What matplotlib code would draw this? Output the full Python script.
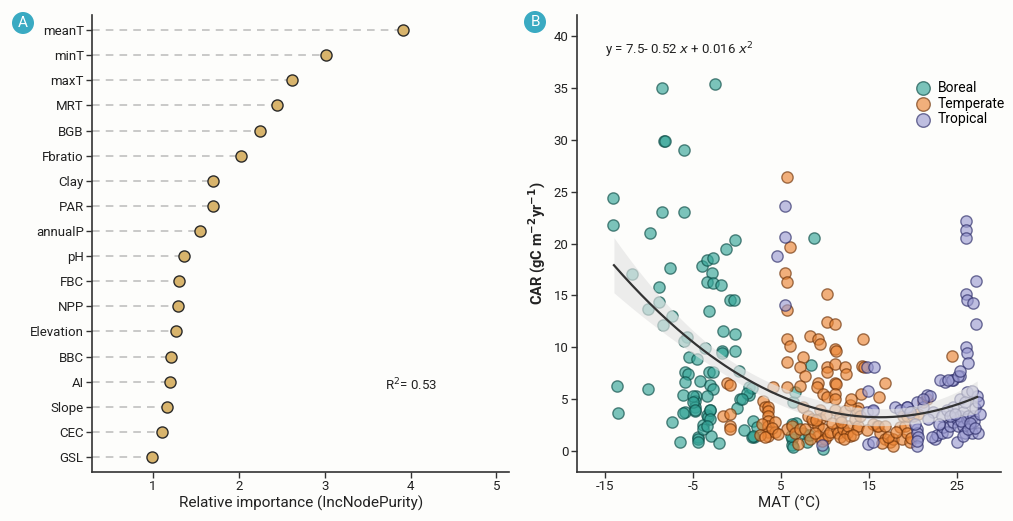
import numpy as np
import matplotlib
matplotlib.use("Agg")
import matplotlib.pyplot as plt
from matplotlib.patches import Circle

plt.rcParams['font.family'] = ['Roboto', 'DejaVu Sans']

# ---------------- Panel A data ----------------
variables = ["meanT", "minT", "maxT", "MRT", "BGB", "Fbratio", "Clay", "PAR", "annualP",
             "pH", "FBC", "NPP", "Elevation", "BBC", "AI", "Slope", "CEC", "GSL"]
importance = [3.91, 3.02, 2.62, 2.45, 2.25, 2.02, 1.70, 1.70, 1.55,
              1.36, 1.30, 1.29, 1.27, 1.21, 1.20, 1.16, 1.10, 0.99]

# ---------------- Panel B data ----------------
boreal_x = [-8.5, -2.5, -8.3, -8.2, -6.0, -14.1, -14.1, -9.9, -8.5, -6.0, -0.2, -1.25, 8.7,
            -4.0, -3.4, -2.7, -7.6, -11.9, -2.8, -3.4, -2.7, -1.8, -8.9, -0.8, -0.3, -8.9,
            -10.1, -3.2, -7.4, -8.4, -1.6, -0.2, -5.7, -6.0, -3.6, -1.7,
            -13.6, -10.1, -13.5, -7.4, -5.45, -4.55, -1.7, -0.2, -5.9, -5.6, -5.9, -4.2,
            -3.2, -2.7, -3.1, -2.7, -6.1, -4.7, -4.8, -4.8, -4.8, -3.4, -5.9, -3.4, -3.3,
            -3.1, -3.9, -4.5, -4.4, -4.5, -3.0, -3.9,
            0.2, 1.4, 1.4, 0.3, 0.0, 1.8, 1.9, 1.7, -3.1, -3.1, -3.4, -5.0, -5.0, -4.8,
            -6.1, 8.4, 6.4, 6.6, 6.3, 6.3, 6.4, 8.0, 9.8, 7.5, 6.7, 1.7, 1.1, 0.6, 2.3,
            1.8, 6.3, 6.1, 8.2, -2.0, -6.5, 0.8]
boreal_y = [35.0, 35.4, 29.9, 29.9, 29.0, 24.4, 21.8, 21.0, 23.0, 23.0, 20.3, 19.5, 20.5,
            17.8, 18.4, 18.6, 17.6, 17.1, 17.2, 16.3, 16.2, 16.0, 15.8, 14.6, 14.6, 14.4,
            13.7, 13.5, 13.0, 12.2, 11.6, 11.3, 11.0, 10.6, 9.9, 9.7,
            6.25, 6.0, 3.65, 2.8, 9.1, 8.85, 9.5, 9.7, 7.6, 7.4, 6.7, 6.8,
            7.6, 7.6, 6.4, 6.0, 5.4, 5.3, 4.8, 4.3, 3.85, 5.3, 3.75, 3.5, 3.3,
            4.0, 2.5, 1.35, 1.15, 0.9, 1.45, 2.1,
            7.7, 6.15, 5.4, 5.0, 4.2, 2.9, 1.35, 1.35, 4.0, 3.1, 2.4, 5.3, 4.7, 4.0,
            3.65, 8.3, 4.7, 5.7, 1.15, 0.65, 0.4, 0.9, 0.2, 1.8, 2.7, 6.1, 5.6, 5.0, 2.3,
            1.45, 2.6, 1.45, 1.6, 0.8, 0.9, 2.0]

temperate_x = [5.7, 6.0, 5.5, 5.7, 5.7, 10.2, 10.2, 11.1, 5.7, 6.0, 8.3, 9.2, 9.4, 11.1,
               11.2, 14.3, 7.5, 5.7, 7.2, 10.2, 11.1, 12.3, 12.4, 10.2, 14.2, 14.4, 7.7,
               9.2, 9.1, 11.1, 11.2, 5.7, 7.2, 4.1, -1.1, -0.8, 16.8, 14.1, 16.1, 24.4,
               9.8, 10.2, 11.1, 11.1, 2.9, 3.2, 3.5, 3.5, 3.5, 3.5, 3.5, 3.5, 3.5,
               4.3, 4.3, -1.6, -0.8, -0.8, -0.8, 5.7, 6.3, 6.6, 7.2, 7.5, 8.1, 8.6,
               9.4, 9.4, 9.2, 9.8, 9.2, 10.0, 9.7, 10.3, 10.6, 11.4, 11.5, 11.7, 12.0,
               12.5, 12.6, 12.8, 13.4, 13.6, 13.8, 13.8, 13.6, 14.0,
               15.9, 16.3, 16.8, 17.4, 17.7, 17.7, 18.5, 18.8, 19.1, 19.3, 19.7, 18.9,
               19.3, 21.6, 21.1, 15.5, 16.0, 16.8, 20.0, 20.6,
               2.8, 2.6, 3.2, 7.7, 8.3, 6.9, 8.5, 11.1, 11.7, 12.3, 12.8, 13.0, 10.1,
               4.0, 4.6, 8.9, 10.8, 12.1, 13.2, 14.8, 16.5, 17.2, 18.1, 19.8, 9.0, 11.8]
temperate_y = [26.4, 19.7, 17.2, 16.3, 13.6, 15.1, 12.4, 12.3, 10.8, 10.1, 11.1, 10.8, 10.3,
               9.8, 9.7, 10.8, 9.1, 8.6, 8.1, 8.1, 8.4, 8.1, 7.4, 7.6, 8.2, 8.1, 7.2,
               6.6, 6.2, 6.6, 6.5, 6.2, 6.3, 6.2, 6.6, 6.4, 6.6, 5.5, 5.2, 9.2,
               5.5, 5.2, 5.5, 5.0, 4.8, 4.3, 4.3, 3.85, 3.4, 2.9, 2.4, 1.9, 1.45,
               2.8, 1.9, 3.4, 3.55, 2.4, 2.1, 2.1, 2.4, 1.8, 2.1, 4.3, 3.4, 2.8,
               4.0, 3.1, 2.4, 2.1, 1.45, 1.15, 1.0, 1.6, 1.9, 2.1, 1.8, 1.35, 2.1,
               1.8, 2.4, 1.45, 3.1, 2.1, 2.4, 4.2, 3.85, 3.4,
               2.4, 1.8, 1.15, 0.9, 1.15, 0.5, 2.3, 1.15, 2.4, 1.8, 0.9, 3.4,
               3.4, 5.0, 4.7, 2.6, 2.4, 2.4, 3.4, 3.55,
               2.6, 1.6, 1.35, 2.1, 1.15, 0.7, 3.1, 4.0, 3.3, 3.85, 4.5, 5.0, 3.5,
               2.2, 1.7, 1.8, 2.7, 1.2, 1.6, 2.0, 0.8, 1.4, 1.9, 1.3, 3.0, 2.8]

tropical_x = [5.5, 5.5, 4.5, 26.0, 26.0, 26.0, 27.2, 26.0, 26.1, 26.8, 27.2, 5.5, 26.0, 26.1,
              26.3, 25.3, 24.5, 23.6, 24.4, 14.8, 15.6, 14.9, 21.6, 20.5, 19.3, 15.5,
              14.9, 15.5, 20.5, 20.5, 20.6, 20.5, 9.7,
              22.5, 22.7, 23.3, 23.4, 23.9, 24.2, 24.5, 25.0, 25.1, 25.3, 25.7, 25.7,
              25.9, 26.1, 26.3, 26.5, 26.7, 26.8, 27.0, 27.3, 27.4, 27.4, 25.0, 25.7,
              26.3, 24.5, 25.3, 26.1, 25.9, 26.7, 22.3, 23.3, 23.9, 24.2, 21.7, 21.1,
              21.9, 23.1, 24.0, 25.1, 25.3, 18.0, 18.5, 19.3, 19.7, 21.1, 14.8, 15.5,
              20.2, 20.4, 22.2, 23.0, 26.9, 27.6, 25.5, 24.8, 26.5, 27.1]
tropical_y = [23.6, 20.6, 18.8, 22.2, 21.3, 20.5, 16.4, 15.1, 14.6, 14.3, 12.3, 14.1, 10.0, 9.5,
              8.5, 7.2, 6.9, 6.7, 6.9, 8.1, 8.1, 5.8, 5.4, 4.7, 4.3, 3.85,
              0.7, 0.9, 2.1, 1.8, 1.35, 0.5, 0.6,
              1.15, 1.6, 1.8, 2.3, 1.9, 2.4, 2.8, 3.1, 2.4, 3.4, 3.75, 2.4,
              1.8, 3.1, 3.4, 2.4, 1.8, 3.4, 4.2, 5.3, 4.7, 1.8, 0.9, 1.45,
              2.1, 4.3, 5.0, 5.7, 4.7, 5.8, 3.75, 3.4, 4.0, 3.4, 3.1, 4.3,
              5.3, 6.9, 6.9, 7.2, 7.7, 4.3, 4.0, 4.3, 3.75, 5.0, 3.75, 4.0,
              2.6, 1.0, 1.4, 2.6, 2.9, 3.6, 2.9, 3.6, 2.7, 2.2]

fit_coef = [7.5, -0.52, 0.016]   # y = a + b x + c x^2
fit_xrange = [-14.0, 27.3]

colors = {"Boreal": ("#35A598", "#0B4A44"),
          "Temperate": ("#EC8636", "#6E3208"),
          "Tropical": ("#9C9CD2", "#2A2A66")}

bg = "#FDFDFB"
fig = plt.figure(figsize=(10.13, 5.21), dpi=100, facecolor=bg)

# ---------------- Panel A ----------------
axA = fig.add_axes([0.0908, 0.094, 0.412, 0.877], facecolor=bg)
n = len(variables)
ypos = np.arange(n)[::-1] + 1
xmin_a = 0.29
axA.hlines(ypos, xmin_a, importance, colors="#BBBBBB", linestyles=(0, (5, 4)), linewidth=1.1, zorder=1)
axA.scatter(importance, ypos, s=64, color="#D8B46C", edgecolor="#2A2A2A", linewidth=1.0, zorder=3)
axA.set_yticks(ypos)
axA.set_yticklabels(variables, fontsize=9.5, color="#222222")
axA.set_xticks([1, 2, 3, 4, 5])
axA.set_xlim(xmin_a, 5.15)
axA.set_ylim(0.4, 18.6)
axA.set_xlabel("Relative importance (IncNodePurity)", fontsize=11, color="#222222", labelpad=2)
axA.text(4.0, 3.87, "R$^2$= 0.53", fontsize=9.5, color="#222222", va="center", ha="center")

# ---------------- Panel B ----------------
axB = fig.add_axes([0.5696, 0.094, 0.4185, 0.877], facecolor=bg)
groups = [("Boreal", boreal_x, boreal_y), ("Temperate", temperate_x, temperate_y),
          ("Tropical", tropical_x, tropical_y)]
for name, gx, gy in groups:
    fc, ec = colors[name]
    axB.scatter(gx, gy, s=66, facecolor=fc, edgecolor=ec, alpha=0.65, linewidth=1.0,
                zorder=2, label=name)

# confidence band from a quadratic fit of all points, centred on the printed equation
allx = np.array(boreal_x + temperate_x + tropical_x)
ally = np.array(boreal_y + temperate_y + tropical_y)
X = np.column_stack([np.ones_like(allx), allx, allx ** 2])
beta, *_ = np.linalg.lstsq(X, ally, rcond=None)
resid = ally - X @ beta
s2 = np.sum(resid ** 2) / (len(ally) - 3)
XtXi = np.linalg.inv(X.T @ X)
xs = np.linspace(fit_xrange[0], fit_xrange[1], 200)
Xs = np.column_stack([np.ones_like(xs), xs, xs ** 2])
se = np.sqrt(np.einsum("ij,jk,ik->i", Xs, XtXi, Xs) * s2)
yline = fit_coef[0] + fit_coef[1] * xs + fit_coef[2] * xs ** 2
axB.fill_between(xs, yline - 1.96 * se, yline + 1.96 * se, color="#E3E3E3", alpha=0.65,
                 linewidth=0, zorder=3)
axB.plot(xs, yline, color="#333333", linewidth=1.6, zorder=4)

axB.set_xlim(-18.2, 30.0)
axB.set_ylim(-2, 42)
axB.set_xticks([-15, -5, 5, 15, 25])
axB.set_xticklabels(["-15", "-5", "5", "15", "25"])
axB.set_yticks([0, 5, 10, 15, 20, 25, 30, 35, 40])
axB.set_xlabel("MAT (°C)", fontsize=11, color="#222222", labelpad=2)
axB.set_ylabel("CAR (gC m$^{\\mathbf{-2}}$yr$^{\\mathbf{-1}}$)", fontsize=10.5, fontweight="bold",
               color="#222222", labelpad=4)
axB.text(-15.0, 38.6, "y = 7.5- 0.52 $\\it{x}$ + 0.016 $\\it{x}^2$", fontsize=9.5, color="#222222",
         va="center")
leg = axB.legend(loc="upper left", bbox_to_anchor=(0.77, 0.868), frameon=False, fontsize=10,
                 handletextpad=0.05, borderaxespad=0, labelspacing=0.12, markerscale=1.2)

for ax in (axA, axB):
    for sp in ("top", "right"):
        ax.spines[sp].set_visible(False)
    for sp in ("left", "bottom"):
        ax.spines[sp].set_color("#333333")
        ax.spines[sp].set_linewidth(1.2)
    ax.tick_params(axis="both", colors="#333333", labelcolor="#222222", labelsize=9.5,
                   length=4, width=1.0, pad=2)

# panel labels
for (cx, cy, lab) in [(23 / 1013, 1 - 23 / 521, "A"), (535 / 1013, 1 - 22 / 521, "B")]:
    circ = Circle((cx * 1013, cy * 521), 11, transform=None, facecolor="#3AAAC2",
                  edgecolor="none")
    fig.patches.append(circ)
    fig.text(cx, cy, lab, color="white", fontsize=11, ha="center", va="center")

fig.savefig("out.png", dpi=100, facecolor=bg)
